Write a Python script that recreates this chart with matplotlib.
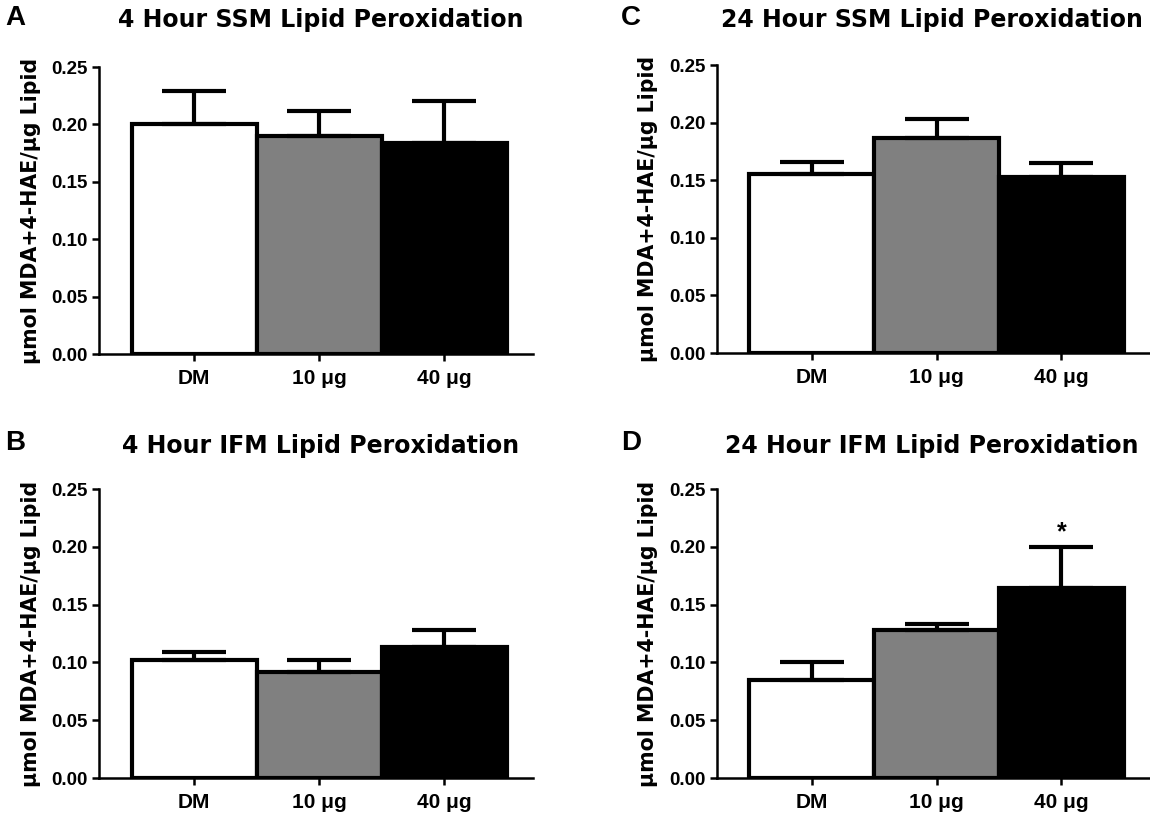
import matplotlib
matplotlib.use("Agg")
import matplotlib.pyplot as plt
from matplotlib.ticker import FormatStrFormatter

# ---------------- data ----------------
categories = ["DM", "10 μg", "40 μg"]
bar_colors = ["white", "#808080", "black"]

panel_letters = ["A", "B", "C", "D"]
panel_titles = [
    "4 Hour SSM Lipid Peroxidation",
    "4 Hour IFM Lipid Peroxidation",
    "24 Hour SSM Lipid Peroxidation",
    "24 Hour IFM Lipid Peroxidation",
]

means_A = [0.200, 0.190, 0.184]
sem_A = [0.029, 0.022, 0.036]

means_B = [0.102, 0.092, 0.113]
sem_B = [0.007, 0.010, 0.015]

means_C = [0.155, 0.187, 0.153]
sem_C = [0.011, 0.016, 0.012]

means_D = [0.085, 0.128, 0.164]
sem_D = [0.015, 0.005, 0.036]

significance_D = ["", "", "*"]

y_label = "μmol MDA+4-HAE/μg Lipid"
y_ticks = [0.00, 0.05, 0.10, 0.15, 0.20, 0.25]

# ---------------- layout ----------------
W, H = 1150, 821
plt.rcParams["font.family"] = ["Liberation Sans", "DejaVu Sans"]
plt.rcParams["font.weight"] = "bold"
WIDE = ["DejaVu Sans", "Liberation Sans"]

fig = plt.figure(figsize=(W / 100, H / 100), dpi=100)


def rect(l, r, t, b):
    return [l / W, 1 - b / H, (r - l) / W, (b - t) / H]


# (axes rect, means, sems, significance, letter xy, title center x, title y, ylabel x)
panels = [
    (rect(99, 533, 67, 354), means_A, sem_A, None, (5, 18), 321, 20, 31),
    (rect(99, 533, 489, 778), means_B, sem_B, None, (5, 443), 321, 446, 31),
    (rect(717, 1150, 65, 353), means_C, sem_C, None, (621, 18), 932, 20, 648),
    (rect(717, 1150, 489, 778), means_D, sem_D, significance_D, (621, 443), 932, 446, 648),
]

x = list(range(len(categories)))

for i, (pos, means, sems, sig, letter_xy, title_x, title_y, ylab_x) in enumerate(panels):
    ax = fig.add_axes(pos)
    ax.bar(x, means, width=1.0, color=bar_colors, edgecolor="black",
           linewidth=3.0, zorder=2)
    ax.errorbar(x, means, yerr=[[0] * len(sems), sems], fmt="none",
                ecolor="black", elinewidth=3.0, capsize=23, capthick=3.0,
                zorder=3)
    if sig:
        for xi, m, s, t in zip(x, means, sems, sig):
            if t:
                ax.text(xi, m + s + 0.002, t, ha="center", va="bottom",
                        fontsize=18, fontweight="bold")
    ax.set_xlim(-0.76, 2.71)
    ax.set_ylim(0, 0.25)
    ax.set_yticks(y_ticks)
    ax.yaxis.set_major_formatter(FormatStrFormatter("%.2f"))
    ax.set_xticks(x)
    ax.set_xticklabels(categories)
    for s in ["top", "right"]:
        ax.spines[s].set_visible(False)
    for s in ["left", "bottom"]:
        ax.spines[s].set_linewidth(1.8)
    ax.tick_params(axis="both", direction="out", length=5, width=1.8,
                   pad=3)
    ax.tick_params(axis="y", labelsize=13.5)
    ax.tick_params(axis="x", labelsize=15, pad=6)
    for lab in ax.get_xticklabels() + ax.get_yticklabels():
        lab.set_fontweight("bold")
    ax.set_facecolor("none")

    l, b, w, h = pos
    # y label
    fig.text(ylab_x / W, b + h / 2, y_label, family=WIDE,
             rotation=90, ha="center", va="center", fontsize=14.8,
             fontweight="bold")
    # title
    fig.text(title_x / W, 1 - title_y / H, panel_titles[i], family=WIDE,
             ha="center", va="center", fontsize=17, fontweight="bold")
    # panel letter
    fig.text(letter_xy[0] / W, 1 - letter_xy[1] / H, panel_letters[i],
             ha="left", va="center", fontsize=20, fontweight="bold")

fig.savefig("out.png", dpi=100, facecolor="white")
